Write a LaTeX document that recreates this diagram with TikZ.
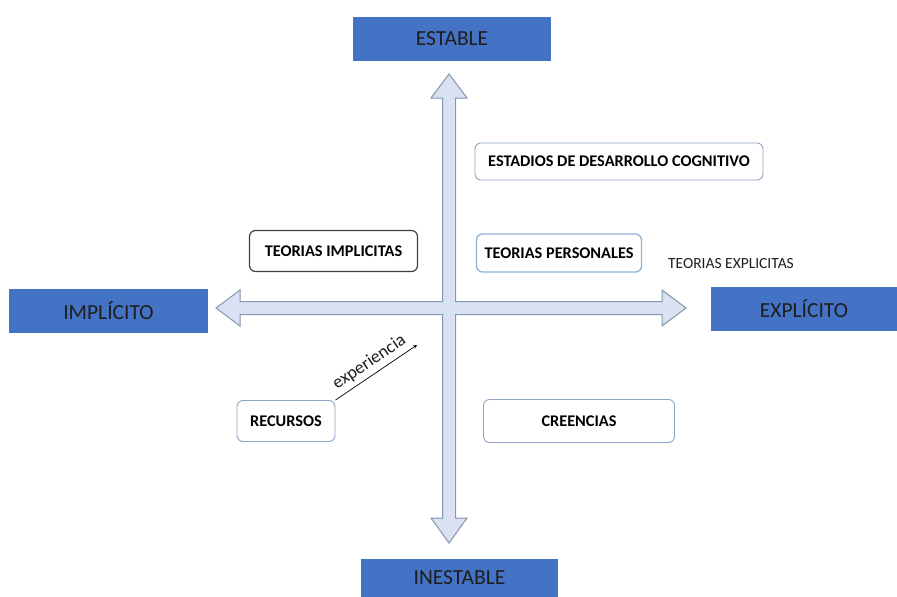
\documentclass[tikz,border=0pt]{standalone}
\usepackage{fontspec}
\setmainfont{Carlito}
\begin{document}
\definecolor{axisblue}{HTML}{4472C4}
\definecolor{crossfill}{HTML}{D9E1F2}
\definecolor{crossline}{HTML}{8496B0}
\definecolor{boxline}{HTML}{8FA3C6}
\definecolor{persline}{HTML}{8DB3D6}
\definecolor{darktext}{HTML}{1E1E1E}
\begin{tikzpicture}[x=1pt,y=-1pt,
  polebox/.style={fill=axisblue,draw=none,text=darktext,font=\fontsize{21.5}{23}\selectfont,
    inner sep=0pt,anchor=center},
  conceptbox/.style={draw=boxline,line width=0.9pt,rounded corners=6pt,fill=white,
    font=\fontsize{16.3}{18}\bfseries\selectfont,text=black,inner sep=0pt,anchor=center},
  plainlabel/.style={font=\fontsize{15.5}{17}\selectfont,text=darktext,inner sep=0pt}]
\useasboundingbox (0,0) rectangle (897,597);

% four-way arrow cross (outline of the union of both double arrows)
\draw[fill=crossfill,draw=crossline,line width=1pt,line join=miter]
  (449,74) -- (467,98) -- (455.5,98) -- (455.5,301.5) -- (662,301.5) -- (662,290)
  -- (686,308) -- (662,326) -- (662,314.5) -- (455.5,314.5) -- (455.5,518)
  -- (467,518) -- (449,543) -- (431,518) -- (442.5,518) -- (442.5,314.5)
  -- (240,314.5) -- (240,326) -- (216,308) -- (240,290) -- (240,301.5)
  -- (442.5,301.5) -- (442.5,98) -- (431,98) -- cycle;

% poles
\node[polebox,minimum width=198pt,minimum height=44pt] (estable) at (452,39) {ESTABLE};
\node[polebox,minimum width=199pt,minimum height=44pt] (implicito) at (108.5,311) {IMPLÍCITO};
\node[polebox,minimum width=186pt,minimum height=44pt] (explicito) at (804,309) {EXPLÍCITO};
\node[polebox,minimum width=197pt,minimum height=38pt] (inestable) at (459.5,578) {INESTABLE};

% concepts
\node[conceptbox,minimum width=288pt,minimum height=37pt] (estadios) at (619,161.5)
  {ESTADIOS DE DESARROLLO COGNITIVO};
\node[conceptbox,draw=black!75,line width=1.2pt,minimum width=168pt,minimum height=41pt]
  (implicitas) at (333.5,251) {TEORIAS IMPLICITAS};
\node[conceptbox,draw=persline,line width=1.3pt,minimum width=165pt,minimum height=38pt]
  (personales) at (559,253) {TEORIAS PERSONALES};
\node[plainlabel] (explicitas) at (731,264) {TEORIAS EXPLICITAS};
\node[conceptbox,minimum width=98pt,minimum height=41pt] (recursos) at (286,421) {RECURSOS};
\node[conceptbox,minimum width=191pt,minimum height=43pt] (creencias) at (579,421) {CREENCIAS};

% experience arrow
\coordinate (expEnd) at (417,345);
\draw[-stealth,line width=0.7pt,black] (recursos.north east) -- (expEnd)
  node[midway,sloped,above=1pt,font=\fontsize{18}{20}\selectfont,text=darktext] (exp) {experiencia};
\end{tikzpicture}
\end{document}
